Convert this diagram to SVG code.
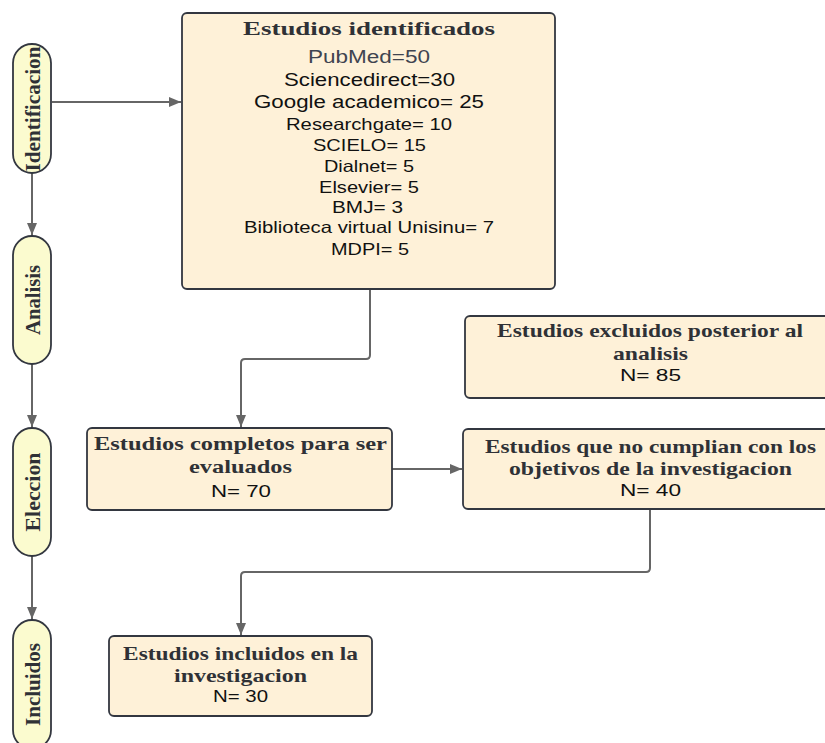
<svg xmlns="http://www.w3.org/2000/svg" width="825" height="743" viewBox="0 0 825 743">
<style>
.pill{fill:#fbfbcf;stroke:#333740;stroke-width:1.8}
.box{fill:#fef1d8;stroke:#333740;stroke-width:1.8}
.conn{fill:none;stroke:#666;stroke-width:2}
.ser{font-family:"Liberation Serif","Times New Roman",serif;font-weight:bold;fill:#2f3136;text-anchor:middle}
.san{font-family:"Liberation Sans",Arial,sans-serif;fill:#111;text-anchor:middle}
.side{font-family:"Liberation Serif","Times New Roman",serif;font-weight:bold;fill:#2f3136;text-anchor:middle;font-size:21px}
</style>
<defs>
<marker id="ah" markerUnits="userSpaceOnUse" viewBox="0 0 12 10" refX="12" refY="5" markerWidth="12" markerHeight="10" orient="auto">
<path d="M0,0 L12,5 L0,10 z" fill="#666"/>
</marker>
</defs>
<rect width="825" height="743" fill="#fff"/>
<g id="connectors">
<path class="conn" d="M52,102 H181" marker-end="url(#ah)"/>
<path class="conn" d="M32,173 V235" marker-end="url(#ah)"/>
<path class="conn" d="M32,364 V427" marker-end="url(#ah)"/>
<path class="conn" d="M32,556 V619" marker-end="url(#ah)"/>
<path class="conn" d="M370,289 V355 Q370,359 366,359 H245 Q241,359 241,363 V427" marker-end="url(#ah)"/>
<path class="conn" d="M392,469 H462" marker-end="url(#ah)"/>
<path class="conn" d="M650,509 V568 Q650,572 646,572 H245 Q241,572 241,576 V635" marker-end="url(#ah)"/>
</g>
<g id="identificacion">
<rect class="pill" x="13" y="44" width="38" height="129" rx="19"/>
<text class="side" transform="translate(39.5,109) rotate(-90)" textLength="125" lengthAdjust="spacingAndGlyphs">Identificacion</text>
</g>
<g id="analisis">
<rect class="pill" x="13" y="236" width="38" height="128" rx="19"/>
<text class="side" transform="translate(39.5,300) rotate(-90)" textLength="70" lengthAdjust="spacingAndGlyphs">Analisis</text>
</g>
<g id="eleccion">
<rect class="pill" x="13" y="428" width="38" height="128" rx="19"/>
<text class="side" transform="translate(39.5,492) rotate(-90)" textLength="79" lengthAdjust="spacingAndGlyphs">Eleccion</text>
</g>
<g id="incluidos">
<rect class="pill" x="13" y="620" width="38" height="129" rx="19"/>
<text class="side" transform="translate(39.5,684.5) rotate(-90)" textLength="83" lengthAdjust="spacingAndGlyphs">Incluidos</text>
</g>
<g id="estudios-identificados">
<rect class="box" x="182" y="13" width="373" height="276" rx="5"/>
<text class="ser" x="369" y="35" font-size="18.5" textLength="252" lengthAdjust="spacingAndGlyphs">Estudios identificados</text>
<text class="san" x="369" y="63" font-size="17.5" style="fill:#3f4450" textLength="122" lengthAdjust="spacingAndGlyphs">PubMed=50</text>
<text class="san" x="369.5" y="86" font-size="17.5" textLength="171" lengthAdjust="spacingAndGlyphs">Sciencedirect=30</text>
<text class="san" x="369" y="108" font-size="17.5" textLength="230" lengthAdjust="spacingAndGlyphs">Google academico= 25</text>
<text class="san" x="369" y="130" font-size="16.5" textLength="166" lengthAdjust="spacingAndGlyphs">Researchgate= 10</text>
<text class="san" x="369.5" y="151" font-size="16.5" textLength="113" lengthAdjust="spacingAndGlyphs">SCIELO= 15</text>
<text class="san" x="369" y="172" font-size="16.5" textLength="90" lengthAdjust="spacingAndGlyphs">Dialnet= 5</text>
<text class="san" x="369" y="193" font-size="16.5" textLength="100" lengthAdjust="spacingAndGlyphs">Elsevier= 5</text>
<text class="san" x="367.5" y="213" font-size="16.5" textLength="71" lengthAdjust="spacingAndGlyphs">BMJ= 3</text>
<text class="san" x="369" y="233" font-size="16.5" textLength="250" lengthAdjust="spacingAndGlyphs">Biblioteca virtual Unisinu= 7</text>
<text class="san" x="370" y="255" font-size="16.5" textLength="78" lengthAdjust="spacingAndGlyphs">MDPI= 5</text>
</g>
<g id="estudios-excluidos">
<rect class="box" x="465" y="316" width="372" height="82" rx="5"/>
<text class="ser" x="650" y="337" font-size="19.5" textLength="306" lengthAdjust="spacingAndGlyphs">Estudios excluidos posterior al</text>
<text class="ser" x="650.5" y="360" font-size="19.5" textLength="75" lengthAdjust="spacingAndGlyphs">analisis</text>
<text class="san" x="650.5" y="381" font-size="17" textLength="61" lengthAdjust="spacingAndGlyphs">N= 85</text>
</g>
<g id="estudios-completos">
<rect class="box" x="87" y="428" width="305" height="82" rx="5"/>
<text class="ser" x="240.5" y="450" font-size="19.5" textLength="293" lengthAdjust="spacingAndGlyphs">Estudios completos para ser</text>
<text class="ser" x="240.5" y="473" font-size="19.5" textLength="103" lengthAdjust="spacingAndGlyphs">evaluados</text>
<text class="san" x="241" y="497" font-size="17" textLength="60" lengthAdjust="spacingAndGlyphs">N= 70</text>
</g>
<g id="estudios-no-cumplian">
<rect class="box" x="463" y="429" width="374" height="80" rx="5"/>
<text class="ser" x="650.5" y="453" font-size="19.5" textLength="331" lengthAdjust="spacingAndGlyphs">Estudios que no cumplian con los</text>
<text class="ser" x="650.5" y="475" font-size="19.5" textLength="283" lengthAdjust="spacingAndGlyphs">objetivos de la investigacion</text>
<text class="san" x="650.5" y="496" font-size="17" textLength="61" lengthAdjust="spacingAndGlyphs">N= 40</text>
</g>
<g id="estudios-incluidos">
<rect class="box" x="109" y="636" width="263" height="80" rx="5"/>
<text class="ser" x="240.5" y="660" font-size="19.5" textLength="235" lengthAdjust="spacingAndGlyphs">Estudios incluidos en la</text>
<text class="ser" x="240.5" y="682" font-size="19.5" textLength="133" lengthAdjust="spacingAndGlyphs">investigacion</text>
<text class="san" x="240.5" y="702" font-size="17" textLength="55" lengthAdjust="spacingAndGlyphs">N= 30</text>
</g>
</svg>
